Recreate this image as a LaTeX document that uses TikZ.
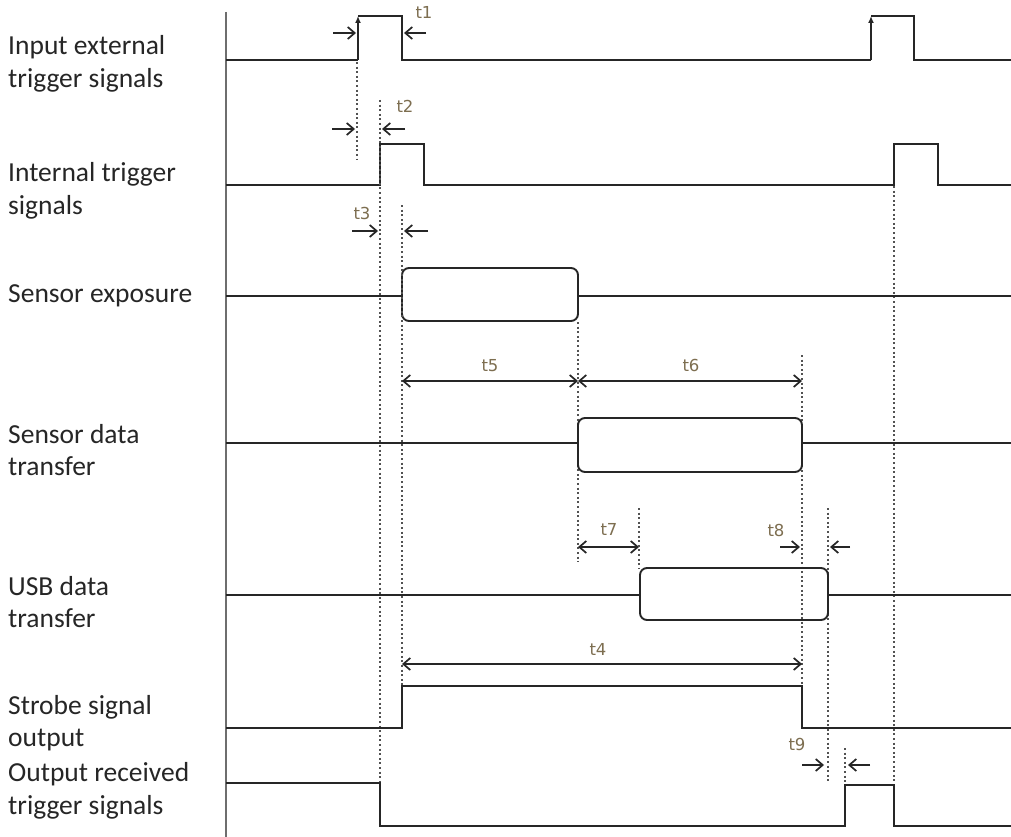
\documentclass[tikz,border=0pt]{standalone}
\usepackage{fontspec}
\setmainfont{Carlito}
\newfontfamily\tfont{DejaVu Sans}
\usetikzlibrary{arrows.meta}
\definecolor{tcol}{RGB}{125,110,80}
\definecolor{axcol}{RGB}{110,110,110}
\begin{document}
\begin{tikzpicture}[x=1pt,y=-1pt,
  sig/.style={line width=1.9pt, black!85, line join=miter},
  dotl/.style={line width=2pt, black!68, dash pattern=on 2pt off 2.6pt},
  lab/.style={anchor=west, align=left, inner sep=0pt, text=black!85, font=\fontsize{27.5}{32.5}\selectfont},
  tl/.style={inner sep=0pt, text=tcol, font=\tfont\fontsize{16.5}{18}\selectfont},
  dim/.style={line width=1.7pt, black!85, {Straight Barb[length=7pt,width=12pt]}-{Straight Barb[length=7pt,width=12pt]}},
  onearr/.style={line width=1.7pt, black!85, -{Straight Barb[length=7pt,width=12pt]}},
  rise/.style={sig, -{Latex[length=7pt,width=6pt]}}
]
\useasboundingbox (0,0) rectangle (1011,837);
\fill[white] (0,0) rectangle (1011,837);

% axis
\draw[line width=1.8pt, axcol] (226,12) -- (226,837);

% labels
\node[lab] (l1) at (8,64) {Input external\\trigger signals};
\node[lab] (l2) at (8,191) {Internal trigger\\signals};
\node[lab] (l3) at (8,296) {Sensor exposure};
\node[lab] (l4) at (8,450) {Sensor data\\transfer};
\node[lab] (l5) at (8,602) {USB data\\transfer};
\node[lab] (l6) at (8,723) {Strobe signal\\output};
\node[lab] (l7) at (8,791) {Output received\\trigger signals};

% row 1: input external trigger
\draw[sig] (226,60) -- (358,60);
\draw[rise] (358,60) -- (358,16);
\draw[sig] (358,16) -- (402,16) -- (402,60) -- (871,60);
\draw[rise] (871,60) -- (871,16);
\draw[sig] (871,16) -- (914,16) -- (914,60) -- (1011,60);
\draw[onearr] (333,33) -- (356,33);
\draw[onearr] (426,33) -- (404,33);
\node[tl] (t1) at (424,12) {t1};

% row 2: internal trigger
\draw[sig] (226,185) -- (380,185) -- (380,144) -- (424,144) -- (424,185) -- (894,185) -- (894,144) -- (938,144) -- (938,185) -- (1011,185);
\draw[dotl] (357,62) -- (357,160);
\draw[dotl] (380,100) -- (380,826);
\draw[dotl] (894,186) -- (894,826);
\draw[onearr] (332,129) -- (355,129);
\draw[onearr] (405,129) -- (382,129);
\node[tl] (t2) at (405,106) {t2};

% row 3: sensor exposure
\draw[sig] (226,296) -- (402,296);
\draw[sig, rounded corners=7pt] (402,268) rectangle (578,321);
\draw[sig] (578,296) -- (1011,296);
\draw[dotl] (402,205) -- (402,686);
\draw[onearr] (352,231) -- (378,231);
\draw[onearr] (428,231) -- (404,231);
\node[tl] (t3) at (362,213) {t3};

% row 4: sensor data transfer
\draw[dotl] (578,322) -- (578,562);
\draw[dotl] (802,355) -- (802,686);
\draw[dim] (402,381) -- (578,381);
\draw[dim] (578,381) -- (802,381);
\node[tl] (t5) at (490,366) {t5};
\node[tl] (t6) at (691,365) {t6};
\draw[sig] (226,443) -- (578,443);
\draw[sig, rounded corners=7pt] (578,418) rectangle (802,472);
\draw[sig] (802,443) -- (1011,443);

% row 5: USB data transfer
\draw[dim] (578,547) -- (639,547);
\node[tl] (t7) at (609,529) {t7};
\draw[dotl] (639,508) -- (639,568);
\draw[onearr] (780,547) -- (800,547);
\draw[onearr] (850,547) -- (830,547);
\node[tl] (t8) at (776,530) {t8};
\draw[dotl] (828,508) -- (828,782);
\draw[sig] (226,595) -- (640,595);
\draw[sig, rounded corners=7pt] (640,568) rectangle (828,620);
\draw[sig] (828,595) -- (1011,595);

% row 6: strobe
\draw[dim] (402,664) -- (802,664);
\node[tl] (t4) at (598,649) {t4};
\draw[sig] (226,728) -- (402,728) -- (402,686) -- (802,686) -- (802,728) -- (1011,728);

% row 7: output received trigger
\draw[onearr] (802,765) -- (824,765);
\draw[onearr] (870,765) -- (848,765);
\node[tl] (t9) at (797,744) {t9};
\draw[dotl] (845,748) -- (845,784);
\draw[sig] (226,783) -- (380,783) -- (380,826) -- (845,826) -- (845,785) -- (894,785) -- (894,826) -- (1011,826);
\end{tikzpicture}
\end{document}
